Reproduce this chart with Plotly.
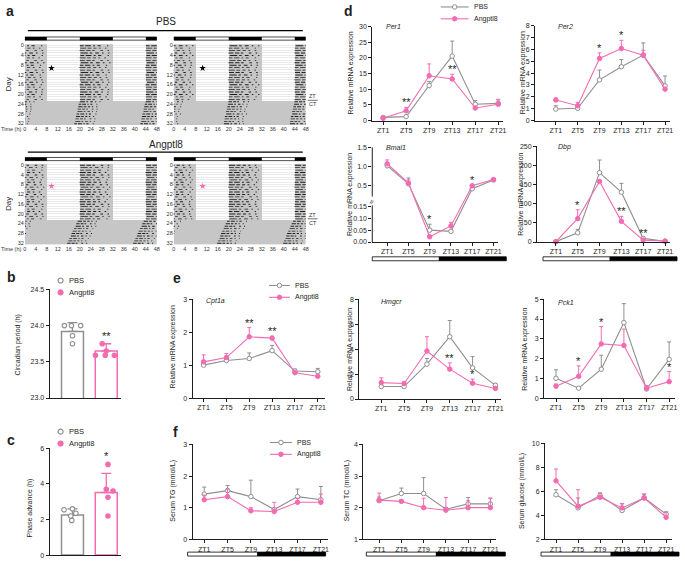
import plotly.graph_objects as go

W, H = 685, 564
FONT = "Arial, Liberation Sans, Helvetica, sans-serif"
GREY = "#8f8f8f"
PINK = "#f46bb2"
INK = "#1e1e1e"
SHADE = "#c6c6c6"
ACT = "#222222"
GRID = "#d6d6d6"

# ---------------- data ----------------
zt_labels = ["ZT1", "ZT5", "ZT9", "ZT13", "ZT17", "ZT21"]
group_names = ["PBS", "Angptl8"]

# d: clock genes (mean, upper SEM)
per1_pbs = [1.0, 1.25, 11.2, 20.6, 5.2, 5.5]
per1_pbs_err = [0.3, 0.15, 1.3, 4.8, 1.2, 1.1]
per1_ang = [0.7, 3.1, 14.3, 13.3, 4.0, 5.2]
per1_ang_err = [0.45, 1.1, 3.8, 1.5, 0.5, 1.6]
per1_sig = ["", "**", "", "**", "", ""]

per2_pbs = [0.97, 1.03, 3.43, 4.54, 5.52, 2.92]
per2_pbs_err = [0.28, 0.1, 0.83, 0.61, 1.03, 0.84]
per2_ang = [1.73, 1.25, 5.24, 6.07, 5.52, 2.65]
per2_ang_err = [0.17, 0.28, 0.47, 0.70, 0.41, 0.1]
per2_sig = ["", "", "*", "*", "", ""]

bmal1_pbs = [1.02, 0.55, 0.05, 0.045, 0.42, 0.65]
bmal1_pbs_err = [0.03, 0.15, 0.025, 0.005, 0.02, 0.02]
bmal1_ang = [1.07, 0.57, 0.022, 0.068, 0.50, 0.66]
bmal1_ang_err = [0.10, 0.08, 0.003, 0.015, 0.03, 0.02]
bmal1_sig = ["", "", "*", "", "*", ""]
bmal1_ticks = [0.0, 0.05, 0.10, 0.15, 0.5, 1.0, 1.5]
bmal1_ticktext = ["0.00", "0.05", "0.10", "0.15", "0.5", "1.0", "1.5"]

dbp_pbs = [1.0, 24, 181, 130, 9.5, 2.0]
dbp_pbs_err = [0.5, 9, 33, 23, 2, 1]
dbp_ang = [0.8, 61, 158, 54, 5, 2.5]
dbp_ang_err = [0.5, 23, 0, 13, 3, 1]
dbp_sig = ["", "*", "", "**", "**", ""]

# e: metabolic genes
cpt1a_pbs = [1.0, 1.14, 1.2, 1.44, 0.82, 0.8]
cpt1a_pbs_err = [0.05, 0.05, 0.17, 0.16, 0.06, 0.1]
cpt1a_ang = [1.1, 1.23, 1.86, 1.82, 0.77, 0.66]
cpt1a_ang_err = [0.21, 0.12, 0.28, 0.06, 0.03, 0.03]
cpt1a_sig = ["", "", "**", "**", "", ""]

hmgcr_pbs = [1.0, 1.0, 2.8, 5.0, 2.5, 1.1]
hmgcr_pbs_err = [0.1, 0.1, 0.45, 1.3, 0.9, 0.15]
hmgcr_ang = [1.32, 1.25, 3.85, 2.4, 1.27, 0.85]
hmgcr_ang_err = [0.38, 0.13, 1.15, 0.5, 0.33, 0.1]
hmgcr_sig = ["", "", "", "**", "*", ""]

pck1_pbs = [1.0, 0.5, 1.46, 3.82, 0.46, 1.96]
pck1_pbs_err = [0.43, 0.05, 0.71, 0.96, 0.1, 0.88]
pck1_ang = [0.6, 1.1, 2.74, 2.66, 0.5, 0.83]
pck1_ang_err = [0.11, 0.53, 0.88, 0.83, 0.13, 0.51]
pck1_sig = ["", "*", "*", "", "", "*"]

# f: serum
tg_pbs = [1.43, 1.54, 1.35, 0.94, 1.35, 1.25]
tg_pbs_err = [0.22, 0.16, 0.52, 0.05, 0.24, 0.42]
tg_ang = [1.25, 1.35, 0.9, 0.88, 1.17, 1.17]
tg_ang_err = [0.15, 0.24, 0.1, 0.29, 0.13, 0.26]

tc_pbs = [2.22, 2.45, 2.45, 1.95, 2.12, 2.12]
tc_pbs_err = [0.12, 0.17, 0.5, 0.05, 0.2, 0.18]
tc_ang = [2.24, 2.2, 2.0, 1.92, 2.0, 2.0]
tc_ang_err = [0.22, 0.03, 0.3, 0.4, 0.22, 0.3]

glu_pbs = [5.72, 4.62, 5.67, 4.4, 5.45, 4.1]
glu_pbs_err = [0.42, 0.83, 0.19, 0.57, 0.27, 0.18]
glu_ang = [6.88, 4.76, 5.5, 4.62, 5.45, 3.83]
glu_ang_err = [0.99, 1.38, 0.36, 0.35, 0.35, 0.45]

# b, c: bar charts
period_mean = [23.92, 23.65]
period_err = [0.12, 0.10]
period_pbs_pts = [24.0, 24.0, 24.0, 23.86, 23.75]
period_ang_pts = [23.75, 23.59, 23.59, 23.59, 23.65]
phase_mean = [2.25, 3.52]
phase_err = [0.35, 1.08]
phase_pbs_pts = [2.55, 2.6, 2.35, 2.2, 1.95]
phase_ang_pts = [5.1, 3.7, 3.6, 3.25, 2.2]

# a: actograms (activity onset hour per day, active hours per day)
act_days = list(range(33))
dd_first_day = 23
ld_dark_hours = [(0, 8), (20, 32), (44, 48)]
time_ticks = [0, 4, 8, 12, 16, 20, 24, 28, 32, 36, 40, 44, 48]
pbs1_onset = [20.0, 20.1, 19.9, 20.0, 20.2, 19.9, 20.0, 20.1, 20.0, 19.8, 20.0, 20.1, 19.9,
              20.0, 20.0, 20.2, 19.9, 20.0, 20.1, 19.9, 20.0, 20.0, 20.1,
              19.8, 19.6, 19.4, 19.2, 19.0, 18.8, 18.6, 18.4, 18.2, 18.0]
pbs2_onset = [20.1, 20.0, 20.0, 19.9, 20.1, 20.0, 20.2, 19.9, 20.0, 20.0, 19.9, 20.1, 20.0,
              20.0, 19.8, 20.0, 20.1, 20.0, 19.9, 20.0, 20.1, 20.0, 19.9,
              19.9, 19.6, 19.5, 19.3, 19.0, 18.9, 18.6, 18.5, 18.3, 18.1]
ang1_onset = [20.0, 20.0, 20.1, 19.9, 20.0, 20.2, 20.0, 19.9, 20.0, 20.1, 20.0, 19.9, 20.0,
              20.1, 20.0, 19.9, 20.0, 20.0, 20.1, 20.0, 19.9, 20.0, 20.0,
              19.2, 18.7, 18.3, 17.9, 17.4, 17.0, 16.6, 16.2, 15.8, 15.4]
ang2_onset = [20.0, 20.1, 20.0, 20.0, 19.9, 20.0, 20.1, 20.0, 20.0, 19.8, 20.0, 20.1, 20.0,
              19.9, 20.0, 20.1, 20.0, 19.9, 20.0, 20.0, 20.1, 20.0, 20.0,
              19.4, 18.9, 18.5, 18.0, 17.6, 17.2, 16.9, 16.5, 16.1, 15.8]
active_hours = [11.5, 11.0, 11.5, 11.2, 11.5, 11.0, 11.3, 11.5, 11.0, 11.4, 11.5, 11.2, 11.0,
                11.5, 11.3, 11.0, 11.5, 11.2, 11.4, 11.0, 11.5, 11.3, 11.2,
                8.0, 7.5, 8.0, 7.8, 7.5, 8.0, 7.6, 7.8, 7.5, 7.8]
# activity bouts within a night: (start, length) as fractions of the active period
bout_patterns = [
    [(0.0, 0.20), (0.25, 0.12), (0.44, 0.10), (0.62, 0.06), (0.82, 0.05)],
    [(0.0, 0.12), (0.17, 0.18), (0.42, 0.06), (0.56, 0.10), (0.86, 0.04)],
    [(0.02, 0.24), (0.32, 0.08), (0.50, 0.12), (0.72, 0.05), (0.92, 0.04)],
    [(0.0, 0.16), (0.21, 0.14), (0.40, 0.08), (0.66, 0.08), (0.88, 0.05)],
]
injection_day = [9.3, 9.3, 8.7, 8.7]
injection_hour = [9.7, 10.5, 9.7, 10.5]

# ---------------- helpers ----------------
fig = go.Figure()
axes = {}
annotations = []
shapes = []


def X(x):
    return x / W


def Y(y):
    return 1 - y / H


def refs(n):
    s = "" if n == 1 else str(n)
    return "x" + s, "y" + s


def add_axes(n, x0, x1, y0, y1, xa, ya):
    xs, ys = refs(n)
    xa = dict(xa)
    ya = dict(ya)
    xa.update(domain=[X(x0), X(x1)], anchor=ys, fixedrange=True)
    ya.update(domain=[Y(y1), Y(y0)], anchor=xs, fixedrange=True)
    axes["xaxis" + xs[1:]] = xa
    axes["yaxis" + ys[1:]] = ya


def text(t, x, y, size=7, xa="center", ya="middle", angle=0, color=INK):
    annotations.append(dict(text=t, x=X(x), y=Y(y), xref="paper", yref="paper",
                            xanchor=xa, yanchor=ya, textangle=angle, showarrow=False,
                            font=dict(size=size, color=color, family=FONT)))


def line_axis(**kw):
    d = dict(showline=True, linecolor=INK, linewidth=1, ticks="outside", ticklen=3,
             tickwidth=1, tickcolor=INK, showgrid=False, zeroline=False,
             tickfont=dict(size=7, color=INK, family=FONT))
    d.update(kw)
    return d


def ld_bar(x0, xm, x1, y):
    shapes.append(dict(type="rect", xref="paper", yref="paper", x0=X(xm), x1=X(x1),
                       y0=Y(y + 2), y1=Y(y - 2), fillcolor="black", line=dict(width=0)))
    shapes.append(dict(type="rect", xref="paper", yref="paper", x0=X(x0), x1=X(x1),
                       y0=Y(y + 2), y1=Y(y - 2), fillcolor="rgba(0,0,0,0)",
                       line=dict(color="black", width=0.8)))


def gene_panel(n, box, xr, yr, yticks, yticktext, pbs, pbs_e, ang, ang_e, sig,
               gene, gene_xy, ylab, ylab_xy, show_yline=True):
    x0, x1, y0, y1 = box
    pos = list(range(len(zt_labels)))
    add_axes(n, x0, x1, y0, y1,
             line_axis(range=xr, tickvals=pos, ticktext=zt_labels),
             line_axis(range=yr, tickvals=yticks, ticktext=yticktext, showline=show_yline))
    xs, ys = refs(n)
    for vals, errs, color, filled in [(pbs, pbs_e, GREY, False), (ang, ang_e, PINK, True)]:
        fig.add_trace(go.Scatter(
            x=pos, y=vals, xaxis=xs, yaxis=ys, mode="lines+markers",
            line=dict(color=color, width=1.1),
            marker=dict(symbol="circle", size=4.5, color=color if filled else "white",
                        line=dict(color=color, width=1)),
            error_y=dict(type="data", symmetric=False, array=errs,
                         arrayminus=[0] * len(errs), color=color, thickness=1, width=2),
            cliponaxis=False, hoverinfo="skip"))
    span = yr[1] - yr[0]
    for i, s in enumerate(sig):
        if s:
            pt = pbs[i] + pbs_e[i]
            at = ang[i] + ang_e[i]
            base = max(pt, at) if abs(pt - at) < 0.15 * span else at
            annotations.append(dict(text=s, x=i, y=base, xref=xs, yref=ys, yanchor="middle",
                                    yshift=5, showarrow=False,
                                    font=dict(size=11, color=INK, family=FONT)))
    if gene:
        text("<i>%s</i>" % gene, gene_xy[0], gene_xy[1], size=7, xa="left")
    text(ylab, ylab_xy[0], ylab_xy[1], size=7, angle=-90)


def bar_panel(n, box, xr, yr, yticks, yticktext, means, errs, pts_list, jitters, sig, ylab, ylab_xy):
    x0, x1, y0, y1 = box
    add_axes(n, x0, x1, y0, y1,
             line_axis(range=xr, showticklabels=False, ticks=""),
             line_axis(range=yr, tickvals=yticks, ticktext=yticktext,
                       tickfont=dict(size=7, color=INK, family=FONT)))
    xs, ys = refs(n)
    colors = [GREY, PINK]
    for i in range(len(means)):
        fig.add_trace(go.Bar(x=[i], y=[means[i]], width=0.65, xaxis=xs, yaxis=ys,
                             marker=dict(color="white", line=dict(color=colors[i], width=1.5)),
                             error_y=dict(type="data", symmetric=False, array=[errs[i]],
                                          arrayminus=[0], color=colors[i], thickness=1.3, width=5),
                             hoverinfo="skip"))
    for i, pts in enumerate(pts_list):
        fig.add_trace(go.Scatter(
            x=[i + j for j in jitters[i]], y=pts, mode="markers", xaxis=xs, yaxis=ys,
            marker=dict(size=4.5, color="white" if i == 0 else PINK,
                        line=dict(color=colors[i], width=1.1)),
            cliponaxis=False, hoverinfo="skip"))
    for i, s in enumerate(sig):
        if s:
            top = max(means[i] + errs[i], max(pts_list[i]))
            annotations.append(dict(text=s, x=i, y=top, xref=xs, yref=ys,
                                    yanchor="middle", yshift=8, showarrow=False,
                                    font=dict(size=11, color=INK, family=FONT)))
    text(ylab, ylab_xy[0], ylab_xy[1], size=7, angle=-90)


def actogram(n, box, onset, inj_hour, inj_day, inj_color, bar_y, show_time_title):
    x0, x1, y0, y1 = box
    add_axes(n, x0, x1, y0, y1,
             dict(range=[0, 48], tickvals=time_ticks, ticks="", showline=False, showgrid=False,
                  zeroline=False, tickfont=dict(size=5.5, color="#333", family=FONT)),
             dict(range=[32.6, -0.6], tick0=0, dtick=4, ticks="", showline=False,
                  showgrid=True, gridcolor=GRID, gridwidth=0.5, zeroline=False,
                  minor=dict(dtick=1, showgrid=True, gridcolor=GRID, gridwidth=0.5),
                  tickfont=dict(size=5.5, color="#333", family=FONT)))
    xs, ys = refs(n)
    # dark-phase shading as a heatmap (1-h bins)
    hours = list(range(48))
    z = []
    for d in act_days:
        row = []
        for h in hours:
            dark = d >= dd_first_day or any(a <= h < b for a, b in ld_dark_hours)
            row.append(1 if dark else None)
        z.append(row)
    fig.add_trace(go.Heatmap(x=[h + 0.5 for h in hours], y=act_days, z=z, xaxis=xs, yaxis=ys,
                             colorscale=[[0, SHADE], [1, SHADE]], showscale=False,
                             zmin=0, zmax=1, hoverinfo="skip"))
    ay, ab, ax = [], [], []
    for d, on, L in zip(act_days, onset, active_hours):
        pat = bout_patterns[(d * 3 + n) % len(bout_patterns)]
        for shift in (-24, 0, 24):
            for s, l in pat:
                ay.append(d + 0.1)
                ab.append(on + shift + s * L)
                ax.append(l * L)
    fig.add_trace(go.Bar(orientation="h", y=ay, base=ab, x=ax, width=0.36, xaxis=xs, yaxis=ys,
                         marker=dict(color=ACT, line=dict(width=0)), hoverinfo="skip"))
    fig.add_trace(go.Scatter(x=[inj_hour], y=[inj_day], mode="markers", xaxis=xs, yaxis=ys,
                             marker=dict(symbol="star", size=5, color=inj_color),
                             hoverinfo="skip"))
    for a, b in ld_dark_hours:
        shapes.append(dict(type="rect", xref=xs, yref="paper", x0=a, x1=b,
                           y0=Y(bar_y + 1.6), y1=Y(bar_y - 1.6), fillcolor="black",
                           line=dict(width=0)))
    shapes.append(dict(type="rect", xref=xs, yref="paper", x0=0, x1=48,
                       y0=Y(bar_y + 1.6), y1=Y(bar_y - 1.6), fillcolor="rgba(0,0,0,0)",
                       line=dict(color="black", width=0.7)))
    if show_time_title:
        text("Time (h)", x0 - 1.5, y1 + 4.5, size=5.5, xa="right", color="#333")
        text("Day", 7, (y0 + y1) / 2, size=8, angle=-90)


# ---------------- panel a ----------------
text("PBS", 165, 18, size=10)
shapes.append(dict(type="line", xref="paper", yref="paper", x0=X(26), x1=X(303), y0=Y(27), y1=Y(27),
                   line=dict(color="black", width=1.2)))
text("Angptl8", 165, 142, size=10)
shapes.append(dict(type="line", xref="paper", yref="paper", x0=X(26), x1=X(303), y0=Y(150), y1=Y(150),
                   line=dict(color="black", width=1.2)))
actogram(1, (23, 156, 40.5, 122.5), pbs1_onset, injection_hour[0], injection_day[0], "black", 35, True)
actogram(2, (173, 306, 40.5, 122.5), pbs2_onset, injection_hour[1], injection_day[1], "black", 35, False)
actogram(3, (23, 156, 161.5, 243.5), ang1_onset, injection_hour[2], injection_day[2], PINK, 157, True)
actogram(4, (173, 306, 161.5, 243.5), ang2_onset, injection_hour[3], injection_day[3], PINK, 157, False)
for yy in (97.5, 217.5):
    text("ZT", 313, yy - 4, size=5.5, color="#333")
    text("CT", 313, yy + 4, size=5.5, color="#333")
    shapes.append(dict(type="line", xref="paper", yref="paper", x0=X(308), x1=X(318), y0=Y(yy), y1=Y(yy),
                       line=dict(color="#333", width=0.7)))

# ---------------- panel b, c ----------------
bar_jit = [[-0.24, -0.03, 0.24, 0.0, 0.0], [-0.12, -0.32, -0.03, 0.24, 0.0]]
bar_panel(5, (48, 120, 289, 399), [-0.676, 1.44], [23.0, 24.5],
          [23.0, 23.5, 24.0, 24.5], ["23.0", "23.5", "24.0", "24.5"],
          period_mean, period_err, [period_pbs_pts, period_ang_pts], bar_jit,
          ["", "**"], "Circadian period (h)", (16, 345))
phase_jit = [[-0.25, 0.0, 0.1, -0.05, -0.02], [0.05, 0.0, 0.2, 0.05, 0.05]]
bar_panel(6, (48, 120, 450, 558), [-0.676, 1.44], [0, 6],
          [0, 2, 4, 6], ["0", "2", "4", "6"],
          phase_mean, phase_err, [phase_pbs_pts, phase_ang_pts], phase_jit,
          ["", "*"], "Phase advance (h)", (28, 510))

# ---------------- panel d ----------------
gene_panel(7, (373, 505, 23, 118), [-0.47, 5.22], [0, 30], [0, 5, 10, 15, 20, 25, 30], None,
           per1_pbs, per1_pbs_err, per1_ang, per1_ang_err, per1_sig,
           "Per1", (385, 23), "Relative mRNA expression", (352, 70))
gene_panel(8, (537, 673, 22, 118), [-0.95, 5.23], [0, 8], list(range(9)), None,
           per2_pbs, per2_pbs_err, per2_ang, per2_ang_err, per2_sig,
           "Per2", (558, 23), "Relative mRNA expression", (525, 70))


def bmal_t(v):
    return v / 0.15 * 36 if v <= 0.2 else 57 + (v - 0.5) * 39


def tr_err(vals, errs):
    return [bmal_t(v + e) - bmal_t(v) for v, e in zip(vals, errs)]


gene_panel(9, (373, 500, 145, 241), [-0.70, 5.23], [0, 96],
           [bmal_t(t) for t in bmal1_ticks], bmal1_ticktext,
           [bmal_t(v) for v in bmal1_pbs], tr_err(bmal1_pbs, bmal1_pbs_err),
           [bmal_t(v) for v in bmal1_ang], tr_err(bmal1_ang, bmal1_ang_err), bmal1_sig,
           "Bmal1", (385, 145), "Relative mRNA expression", (350, 193), show_yline=False)
shapes.append(dict(type="line", xref="paper", yref="y9", x0=X(373), x1=X(373), y0=0, y1=bmal_t(0.15) + 1,
                   line=dict(color=INK, width=1)))
shapes.append(dict(type="line", xref="paper", yref="y9", x0=X(373), x1=X(373), y0=46, y1=96,
                   line=dict(color=INK, width=1)))
text("≈", 372.5, 200, size=8, angle=-70)
gene_panel(10, (539, 673, 144, 241), [-0.86, 5.23], [0, 250], [0, 50, 100, 150, 200, 250], None,
           dbp_pbs, dbp_pbs_err, dbp_ang, dbp_ang_err, dbp_sig,
           "Dbp", (558, 145), "Relative mRNA expression", (522, 193))
ld_bar(373, 440, 508, 258)
ld_bar(545, 612, 680, 258)

# ---------------- panel e ----------------
gene_panel(11, (192, 325, 299, 399), [-0.48, 5.3], [0, 3], [0, 1, 2, 3], None,
           cpt1a_pbs, cpt1a_pbs_err, cpt1a_ang, cpt1a_ang_err, cpt1a_sig,
           "Cpt1a", (203, 301), "Relative mRNA expression", (172, 347))
gene_panel(12, (360, 503, 299, 400), [-0.96, 5.26], [0, 8], [0, 2, 4, 6, 8], None,
           hmgcr_pbs, hmgcr_pbs_err, hmgcr_ang, hmgcr_ang_err, hmgcr_sig,
           "Hmgcr", (380, 302), "Relative mRNA expression", (350, 350))
gene_panel(13, (546, 678, 299, 399), [-0.53, 5.26], [0, 5], [0, 1, 2, 3, 4, 5], None,
           pck1_pbs, pck1_pbs_err, pck1_ang, pck1_ang_err, pck1_sig,
           "Pck1", (558, 302), "Relative mRNA expression", (526, 350))

# ---------------- panel f ----------------
nosig = ["", "", "", "", "", ""]
gene_panel(14, (192, 328, 446, 542), [-0.5, 5.29], [0, 3], [0, 1, 2, 3], None,
           tg_pbs, tg_pbs_err, tg_ang, tg_ang_err, nosig,
           None, None, "Serum TG (mmol/L)", (172, 493))
gene_panel(15, (364, 498, 446, 542), [-0.71, 5.27], [1, 4], [1, 2, 3, 4], None,
           tc_pbs, tc_pbs_err, tc_ang, tc_ang_err, nosig,
           None, None, "Serum TC (mmol/L)", (347, 493))
gene_panel(16, (547, 675, 445, 542), [-0.5, 5.27], [2, 10], [2, 4, 6, 8, 10], None,
           glu_pbs, glu_pbs_err, glu_ang, glu_ang_err, nosig,
           None, None, "Serum glucose (mmol/L)", (524, 493))
ld_bar(187, 257, 326, 557)
ld_bar(367, 437, 507, 557)
ld_bar(543, 613, 682, 557)

# ---------------- legends (overlay axis in pixel units) ----------------
add_axes(17, 0, W, 0, H, dict(range=[0, W], visible=False), dict(range=[H, 0], visible=False))


def legend_line(x0, x1, y, label, color, filled):
    fig.add_trace(go.Scatter(x=[x0, x1], y=[y, y], mode="lines", xaxis="x17", yaxis="y17",
                             line=dict(color=color, width=1.1), hoverinfo="skip"))
    fig.add_trace(go.Scatter(x=[(x0 + x1) / 2], y=[y], mode="markers", xaxis="x17", yaxis="y17",
                             marker=dict(size=4.5, color=color if filled else "white",
                                         line=dict(color=color, width=1)), hoverinfo="skip"))
    text(label, x1 + 3, y, size=7, xa="left")


def legend_dot(x, y, label, color, filled):
    fig.add_trace(go.Scatter(x=[x], y=[y], mode="markers", xaxis="x17", yaxis="y17",
                             marker=dict(size=5, color=color if filled else "white",
                                         line=dict(color=color, width=1.2)), hoverinfo="skip"))
    text(label, x + 6, y, size=7.5, xa="left")


for (lx0, lx1, ly) in [(442, 470, 3), (269, 290, 285), (270, 292, 444)]:
    legend_line(lx0, lx1, ly, group_names[0], GREY, False)
    legend_line(lx0, lx1, ly + 12, group_names[1], PINK, True)
for (dx, dy) in [(59, 280), (59, 433)]:
    legend_dot(dx, dy, group_names[0], GREY, False)
    legend_dot(dx, dy + 12, group_names[1], PINK, True)

# ---------------- panel letters ----------------
for letter, lx, ly in [("a", 2, 7), ("b", 3, 276), ("c", 3, 441), ("d", 343, 7), ("e", 170, 277), ("f", 170, 433)]:
    text("<b>%s</b>" % letter, lx, ly, size=14, xa="left")

fig.update_layout(width=W, height=H, margin=dict(l=0, r=0, t=0, b=0),
                  paper_bgcolor="white", plot_bgcolor="rgba(0,0,0,0)",
                  showlegend=False, barmode="overlay",
                  font=dict(family=FONT, size=7, color=INK),
                  annotations=annotations, shapes=shapes, **axes)
fig.write_html("out.html", config={"displayModeBar": False, "staticPlot": True},
               post_script="document.body.style.margin='0';document.body.style.overflow='hidden';")
